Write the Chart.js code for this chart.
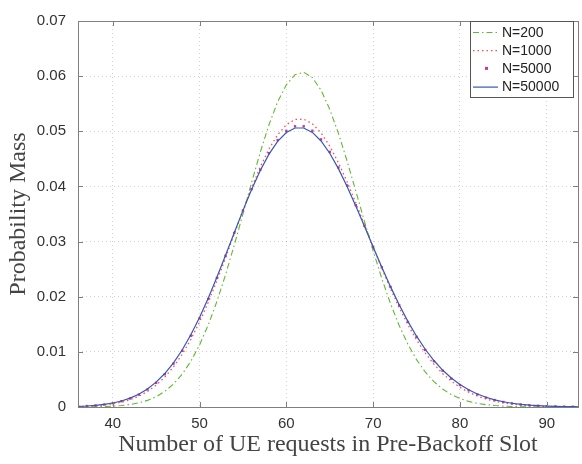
<!DOCTYPE html>
<html><head><meta charset="utf-8">
<script src="https://cdn.jsdelivr.net/npm/chart.js@4"></script>
<style>html,body{margin:0;padding:0;background:#fff;} canvas{display:block;}</style>
</head><body>
<canvas id="c" width="582" height="464"></canvas>
<script>
const xValues = [36,37,38,39,40,41,42,43,44,45,46,47,48,49,50,51,52,53,54,55,56,57,58,59,60,61,62,63,64,65,66,67,68,69,70,71,72,73,74,75,76,77,78,79,80,81,82,83,84,85,86,87,88,89,90,91,92,93,94];
const seriesN200 = [0.0000117,0.0000233,0.0000450,0.0000840,0.000152,0.000266,0.000452,0.000747,0.001197,0.001864,
  0.002822,0.004154,0.005949,0.008291,0.01125,0.01486,0.01913,0.02400,0.02935,0.03500,
  0.04071,0.04621,0.05119,0.05535,0.05844,0.06026,0.0607,0.05974,0.05745,0.05400,
  0.04963,0.04459,0.03918,0.03368,0.02832,0.02330,0.01875,0.01477,0.01139,0.008597,
  0.006353,0.004596,0.003256,0.002259,0.001535,0.001022,0.000666,0.000425,0.000266,0.000163,
  0.0000980,0.0000577,0.0000333,0.0000188,0.0000104,0.0000057,0.0000031,0.0000016,0.0000009];
const seriesN1000 = [0.0000762,0.000131,0.000220,0.000358,0.000569,0.000881,0.001329,0.001957,0.002814,0.003951,
  0.005422,0.007275,0.009547,0.01226,0.01541,0.01898,0.02289,0.02706,0.03137,0.03566,
  0.03977,0.04354,0.04679,0.04938,0.05119,0.05214,0.0522,0.05137,0.04971,0.04732,
  0.04431,0.04083,0.03703,0.03306,0.02906,0.02516,0.02146,0.01803,0.01493,0.01218,
  0.009799,0.007772,0.006079,0.004690,0.003569,0.002679,0.001985,0.001451,0.001047,0.000746,
  0.000525,0.000364,0.000250,0.000169,0.000113,0.0000747,0.0000488,0.0000315,0.0000201];
const seriesN5000 = [0.000100,0.000169,0.000277,0.000442,0.000689,0.001047,0.001552,0.002247,0.003178,0.004394,
  0.005943,0.007865,0.01019,0.01293,0.01607,0.01959,0.02341,0.02744,0.03156,0.03563,
  0.03950,0.04302,0.04603,0.04841,0.05006,0.05090,0.05091,0.05010,0.04853,0.04627,
  0.04344,0.04017,0.03659,0.03284,0.02905,0.02533,0.02177,0.01845,0.01542,0.01272,
  0.01035,0.008310,0.006585,0.005151,0.003978,0.003034,0.002285,0.001700,0.001249,0.000907,
  0.000651,0.000462,0.000324,0.000224,0.000154,0.000104,0.0000699,0.0000463,0.0000304];
const seriesN50000 = [0.000107,0.000179,0.000293,0.000465,0.000721,0.001090,0.001609,0.002320,0.003269,0.004503,
  0.006070,0.008007,0.01034,0.01309,0.01623,0.01973,0.02352,0.02752,0.03159,0.03561,
  0.03943,0.04289,0.04585,0.04818,0.04978,0.05060,0.05060,0.04980,0.04824,0.04602,
  0.04323,0.04000,0.03647,0.03277,0.02903,0.02535,0.02183,0.01854,0.01553,0.01284,
  0.01047,0.008434,0.006704,0.005261,0.004077,0.003121,0.002360,0.001763,0.001301,0.000949,
  0.000684,0.000488,0.000344,0.000240,0.000165,0.000112,0.0000757,0.0000505,0.0000333];
const seriesLabels = ['N=200','N=1000','N=5000','N=50000'];
const xTicks = [40,50,60,70,80,90];
const yTicks = [0,0.01,0.02,0.03,0.04,0.05,0.06,0.07];
const xTitle = 'Number of UE requests in Pre-Backoff Slot';
const yTitle = 'Probability Mass';

const toPts = arr => arr.map((v,i)=>({x:xValues[i], y:v}));
const AXIS = '#7f7f7f';
const TEXT = '#333333';

const frameTicks = {
  id:'frameTicks',
  afterDatasetsDraw(chart){
    const {ctx, chartArea:a, scales:{x,y}} = chart;
    ctx.save();
    ctx.strokeStyle = AXIS; ctx.lineWidth = 1; ctx.setLineDash([]);
    ctx.strokeRect(Math.round(a.left)+0.5, Math.round(a.top)+0.5, Math.round(a.right-a.left), Math.round(a.bottom-a.top));
    const L = 5;
    ctx.beginPath();
    xTicks.forEach(v=>{ const px = Math.round(x.getPixelForValue(v))+0.5;
      ctx.moveTo(px,a.bottom); ctx.lineTo(px,a.bottom-L);
      ctx.moveTo(px,a.top); ctx.lineTo(px,a.top+L); });
    yTicks.forEach(v=>{ const py = Math.round(y.getPixelForValue(v))+0.5;
      ctx.moveTo(a.left,py); ctx.lineTo(a.left+L,py);
      ctx.moveTo(a.right,py); ctx.lineTo(a.right-L,py); });
    ctx.stroke();
    ctx.restore();
  }
};

const legendBox = {
  id:'legendBox',
  afterDraw(chart){
    const ctx = chart.ctx;
    const bx = 470.5, by = 21.5, bw = 103, bh = 76;
    ctx.save();
    ctx.fillStyle = '#fff'; ctx.fillRect(bx,by,bw,bh);
    ctx.strokeStyle = '#555'; ctx.lineWidth = 1; ctx.strokeRect(bx,by,bw,bh);
    ctx.font = '14px "Liberation Sans", Arial, sans-serif';
    ctx.textBaseline = 'middle'; ctx.textAlign = 'left';
    chart.data.datasets.forEach((ds,i)=>{
      const yy = 32 + i*18.2;
      ctx.save();
      if (ds.showLine === false) {
        ctx.fillStyle = ds.pointBackgroundColor;
        ctx.fillRect(485, yy-1.5, 3, 3);
      } else {
        ctx.strokeStyle = ds.borderColor; ctx.lineWidth = ds.borderWidth;
        ctx.setLineDash(ds.borderDash || []);
        ctx.beginPath(); ctx.moveTo(473, yy+0.5); ctx.lineTo(498, yy+0.5); ctx.stroke();
      }
      ctx.restore();
      ctx.fillStyle = '#222';
      ctx.fillText(ds.label, 502, yy+1);
    });
    ctx.restore();
  }
};

new Chart(document.getElementById('c'), {
  type:'line',
  data:{ datasets:[
    {label:seriesLabels[0], data:toPts(seriesN200), borderColor:'#62b832', borderWidth:1.1, borderDash:[6,3,1.5,3], pointRadius:0, fill:false, order:4},
    {label:seriesLabels[1], data:toPts(seriesN1000), borderColor:'#ff4d4d', borderWidth:1.3, borderDash:[1.5,3], pointRadius:0, fill:false, order:3},
    {label:seriesLabels[2], data:toPts(seriesN5000), showLine:false, pointStyle:'rect', pointRadius:1.7, pointBorderWidth:0, pointBackgroundColor:'#c8379f', pointBorderColor:'#c8379f', order:2},
    {label:seriesLabels[3], data:toPts(seriesN50000), borderColor:'#3557b7', borderWidth:1.2, pointRadius:0, fill:false, order:1}
  ]},
  options:{
    responsive:false, animation:false, devicePixelRatio:1,
    layout:{padding:{top:10, right:2, left:0, bottom:0}},
    plugins:{legend:{display:false}, tooltip:{enabled:false}},
    events:[],
    scales:{
      x:{ type:'linear', min:36, max:93.6,
        afterBuildTicks(s){ s.ticks = xTicks.map(v=>({value:v})); },
        afterFit(s){ s.height = 57; },
        ticks:{ color:TEXT, font:{family:'"Liberation Sans", Arial, sans-serif', size:15}, padding:8, maxRotation:0, autoSkip:false },
        grid:{ color:'rgba(0,0,0,0.18)', lineWidth:1, drawTicks:false },
        border:{ display:false, dash:[1,3] },
        title:{ display:true, text:xTitle, color:'#444', font:{family:'"Liberation Serif", "Times New Roman", serif', size:24, lineHeight:1}, padding:{top:0,bottom:7} }
      },
      y:{ type:'linear', min:0, max:0.07,
        afterBuildTicks(s){ s.ticks = yTicks.map(v=>({value:v})); },
        afterFit(s){ s.width = 78; },
        ticks:{ color:TEXT, font:{family:'"Liberation Sans", Arial, sans-serif', size:15}, padding:12,
          callback:v => v===0 ? '0' : v.toFixed(2) },
        grid:{ color:'rgba(0,0,0,0.18)', lineWidth:1, drawTicks:false },
        border:{ display:false, dash:[1,3] },
        title:{ display:true, text:yTitle, color:'#444', font:{family:'"Liberation Serif", "Times New Roman", serif', size:24, lineHeight:1}, padding:{top:7,bottom:0} }
      }
    }
  },
  plugins:[frameTicks, legendBox]
});
</script>
</body></html>
